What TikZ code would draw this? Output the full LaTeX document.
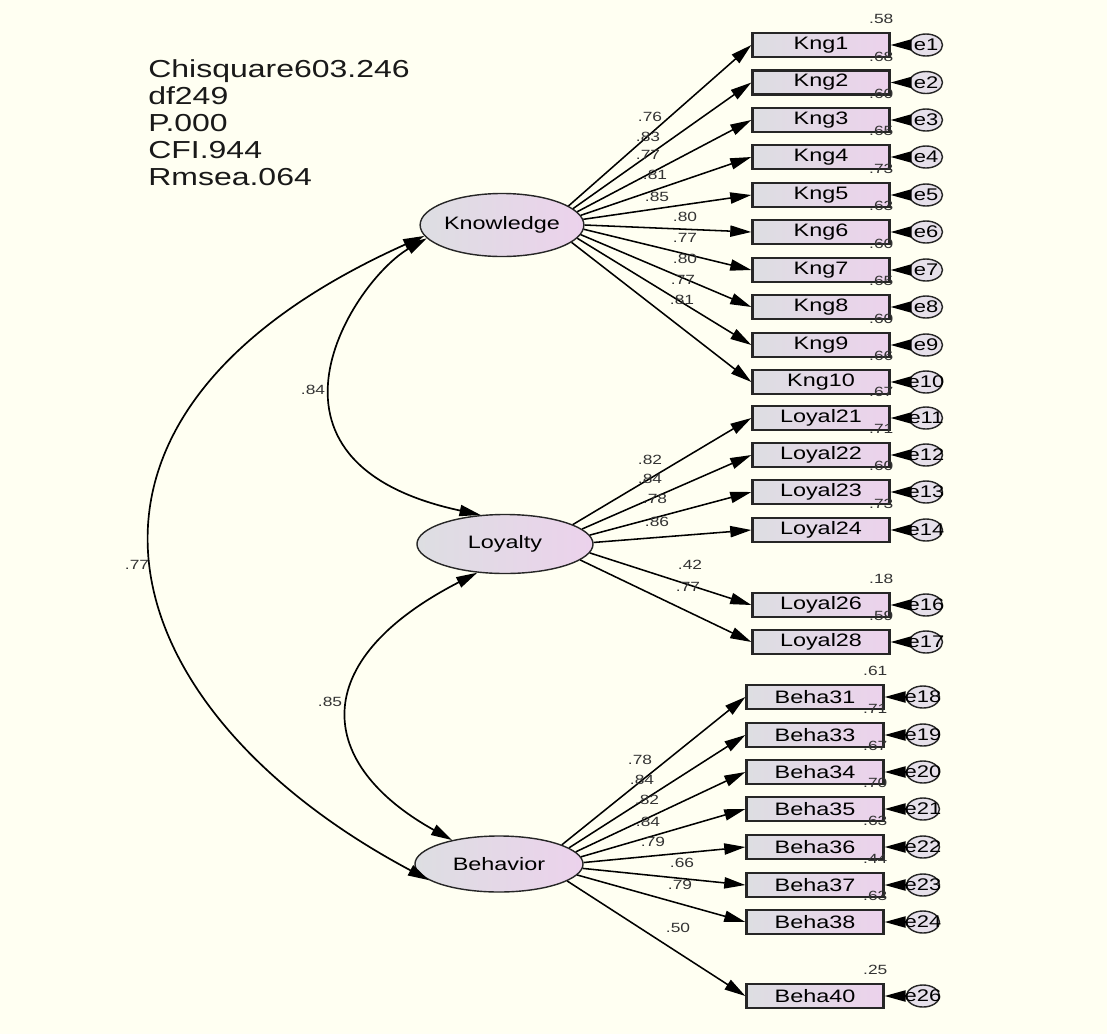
\documentclass[tikz,border=0pt]{standalone}
\usepackage{fontspec}
\setmainfont[FakeStretch=1.3]{Liberation Sans}
\usetikzlibrary{arrows.meta,positioning,calc,shapes.geometric}
\definecolor{Paper}{HTML}{FFFFF2}
\definecolor{Cool}{HTML}{DDDEE2}
\definecolor{Rose}{HTML}{ECD2EC}
\definecolor{Haze}{HTML}{E6E0EA}
\tikzset{
 lat/.style={ellipse,draw=black!85,line width=1pt,left color=Cool,right color=Rose,minimum width=4.2cm,minimum height=1.5cm,inner sep=0pt,font=\fontsize{12.8}{14}\selectfont},
 ind/.style={draw=black!85,line width=1.6pt,left color=Cool,right color=Rose,minimum width=3.425cm,minimum height=0.6cm,inner sep=0pt,font=\fontsize{12.8}{14}\selectfont},
 err/.style={ellipse,draw=black!85,line width=1pt,fill=Haze,minimum width=0.825cm,minimum height=0.55cm,inner sep=0pt},
 errtxt/.style={font=\fontsize{12}{13}\selectfont,inner sep=0pt},
 coef/.style={font=\fontsize{9.5}{10}\selectfont,inner sep=0pt,text=black!80},
 stats/.style={font=\fontsize{17.5}{19.3}\selectfont,align=left,inner sep=0pt,text=black!90},
 load/.style={-{Triangle[length=15pt,width=8pt]},line width=1.1pt},
 cov/.style={{Triangle[length=15pt,width=8pt]}-{Triangle[length=15pt,width=8pt]},line width=1.2pt}
}
\begin{document}
\begin{tikzpicture}[x=0.025cm,y=-0.025cm]
\fill[Paper] (0,0) rectangle (1107,1034);
\useasboundingbox (0,0) rectangle (1107,1034);
\node[stats,anchor=north west] (gof) at (148,59) {Chisquare603.246\\df249\\P.000\\CFI.944\\Rmsea.064};
% latent variables
\node[lat,minimum width=4.05cm,minimum height=1.575cm] (know) at (502,225) {Knowledge};
\node[lat,minimum width=4.4cm,minimum height=1.475cm] (loy) at (505,544) {Loyalty};
\node[lat,minimum height=1.4cm] (beh) at (499,864) {Behavior};
% knowledge items
\foreach \n/\y/\rs/\ld/\lx/\ly/\a in {1/45/.58/.76/650/117/16,2/82.5/.68/.83/648/137/13,3/120/.60/.77/648/155/10,4/157/.65/.81/655/175/7,5/195/.73/.85/657/197/4,6/232/.63/.80/685/217/0,7/270/.60/.77/685/238/-3,8/307/.65/.80/685/259/-7,9/345/.60/.77/683/280/-10,10/382/.66/.81/682/300/-14}{
 \node[ind] (kng\n) at (821,\y) {Kng\n};
 \node[err,label={[errtxt]center:e\n}] (ek\n) at (926,\y) {};
 \node[coef,anchor=base east] at ($(kng\n.north east)+(3,-8)$) {\rs};
 \node[coef] at (\lx,\ly) {\ld};
 \draw[load] (know.\a) -- (kng\n.west);
 \draw[load] (ek\n) -- (kng\n.east);
}
% loyalty items
\foreach \n/\y/\rs/\ld/\lx/\ly/\er/\a in {21/418/.67/.82/650/460/11/16,22/455/.71/.84/650/479/12/11,23/492/.60/.78/655/499/13/6,24/530/.73/.86/657/522/14/1,26/605/.18/.42/690/565/16/-6,28/642/.59/.77/688/587/17/-12}{
 \node[ind] (loyal\n) at (821,\y) {Loyal\n};
 \node[err,label={[errtxt]center:e\er}] (el\n) at (926,\y) {};
 \node[coef,anchor=base east] at ($(loyal\n.north east)+(3,-8)$) {\rs};
 \node[coef] at (\lx,\ly) {\ld};
 \draw[load] (loy.\a) -- (loyal\n.west);
 \draw[load] (el\n) -- (loyal\n.east);
}
% behavior items
\foreach \n/\y/\rs/\ld/\lx/\ly/\er/\a in {31/697/.61/.78/640/760/18/17,33/735/.71/.84/642/780/19/13,34/772/.67/.82/647/800/20/9,35/809/.70/.84/648/822/21/5,36/847/.63/.79/653/842/22/1,37/885/.44/.66/682/863/23/-3,38/922/.63/.79/680/885/24/-8,40/996/.25/.50/678/928/26/-14}{
 \node[ind] (beha\n) at (815,\y) {Beha\n};
 \node[err,label={[errtxt]center:e\er}] (eb\n) at (923,\y) {};
 \node[coef,anchor=base east] at ($(beha\n.north east)+(3,-8)$) {\rs};
 \node[coef] at (\lx,\ly) {\ld};
 \draw[load] (beh.\a) -- (beha\n.west);
 \draw[load] (eb\n) -- (beha\n.east);
}
% correlations
\draw[cov] (know.190) .. controls (354,280) and (234,462) .. (loy.130);
\draw[cov] (loy.226) .. controls (304,662) and (317,765) .. (beh.153);
\draw[cov] (know.188) .. controls (16,419) and (109,710) .. (beh.193);
\node[coef] (r1) at (313,390) {.84};
\node[coef] (r2) at (330,702) {.85};
\node[coef] (r3) at (137,565) {.77};
\end{tikzpicture}
\end{document}
